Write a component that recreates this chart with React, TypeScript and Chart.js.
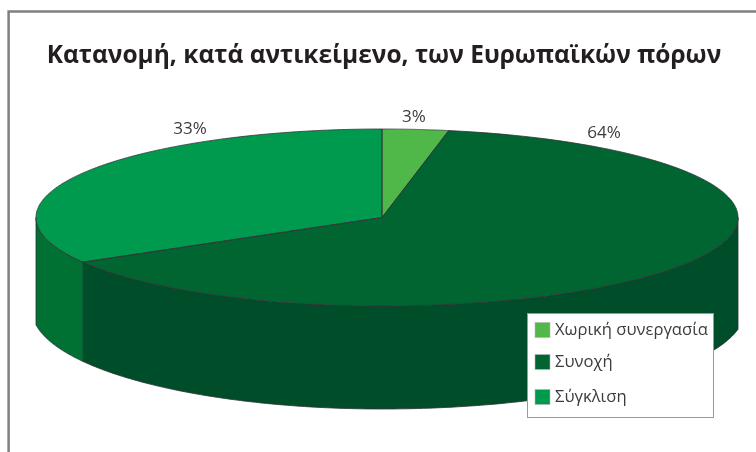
import React, { useEffect, useRef } from "react";
import { Chart, registerables } from "chart.js";

Chart.register(...registerables);

const titleText = "Κατανομή, κατά αντικείμενο, των Ευρωπαϊκών πόρων";
const categories = ["Χωρική συνεργασία", "Συνοχή", "Σύγκλιση"];
const shares = [3, 63.6, 33.4];
const shareLabels = ["3%", "64%", "33%"];
const faceColors = ["#50b848", "#006531", "#009a4e"];
const wallColors = ["#3f9a3a", "#004d2a", "#007033"];

const labelFont = '"Open Sans", "Noto Sans", sans-serif';

const geo = {
  cx: 382,
  cy: 217.5,
  rxLeft: 346,
  rxRight: 356,
  ry: 88.5,
  baseCy: 310,
  baseRy: 99,
  baseRxLeft: 350,
  baseRxRight: 363,
};
const labelAnchors = [
  { x: 414, y: 117 },
  { x: 604, y: 133 },
  { x: 190, y: 129 },
];
const legendBox = { x: 527, y: 313, w: 187, h: 105, rowY: [330, 362, 397], swatchX: 535, swatch: 15, textX: 555 };

const project = (a: number, base: boolean) => {
  const c = Math.cos(a);
  const x = geo.cx + (c >= 0 ? geo.rxRight : geo.rxLeft) * c;
  if (!base) return { x, y: geo.cy + geo.ry * Math.sin(a) };
  const u = (x - geo.cx) / (c >= 0 ? geo.baseRxRight : geo.baseRxLeft);
  return { x, y: geo.baseCy + geo.baseRy * Math.sqrt(Math.max(0, 1 - u * u)) };
};

const rimPath = (ctx: CanvasRenderingContext2D, from: number, to: number, base: boolean, move: boolean) => {
  const steps = 160;
  for (let i = 0; i <= steps; i++) {
    const p = project(from + ((to - from) * i) / steps, base);
    if (i === 0 && move) ctx.moveTo(p.x, p.y);
    else ctx.lineTo(p.x, p.y);
  }
};

const pie3d = {
  id: "pie3d",
  beforeDatasetDraw() {
    return false;
  },
  afterDatasetsDraw(chart: any) {
    const ctx: CanvasRenderingContext2D = chart.ctx;
    const arcs = chart.getDatasetMeta(0).data;
    const stroke = "#2f3335";

    // frame
    ctx.save();
    ctx.strokeStyle = "#808080";
    ctx.lineWidth = 2.5;
    ctx.beginPath();
    ctx.moveTo(8.6, 460);
    ctx.lineTo(8.6, 11.6);
    ctx.lineTo(770, 11.6);
    ctx.stroke();
    ctx.restore();

    // walls: the part of each slice whose angle faces the viewer
    arcs.forEach((arc: any, i: number) => {
      const twoPi = Math.PI * 2;
      for (const shift of [0, twoPi, -twoPi]) {
        const from = Math.max(arc.startAngle + shift, 0);
        const to = Math.min(arc.endAngle + shift, Math.PI);
        if (to <= from) continue;
        ctx.beginPath();
        rimPath(ctx, from, to, false, true);
        rimPath(ctx, to, from, true, false);
        ctx.closePath();
        ctx.fillStyle = wallColors[i];
        ctx.fill();
        ctx.strokeStyle = stroke;
        ctx.lineWidth = 0.8;
        ctx.stroke();
      }
    });

    // top faces: the library's arcs, squashed onto the ellipse
    for (const side of ["left", "right"]) {
      ctx.save();
      ctx.beginPath();
      if (side === "left") ctx.rect(0, 0, geo.cx, 452);
      else ctx.rect(geo.cx, 0, 756 - geo.cx, 452);
      ctx.clip();
      arcs.forEach((arc: any) => {
        const rx = side === "left" ? geo.rxLeft : geo.rxRight;
        ctx.save();
        ctx.translate(geo.cx, geo.cy);
        ctx.scale(rx / arc.outerRadius, geo.ry / arc.outerRadius);
        ctx.translate(-arc.x, -arc.y);
        arc.draw(ctx);
        ctx.restore();
      });
      ctx.restore();
    }

    // face outlines
    arcs.forEach((arc: any) => {
      ctx.beginPath();
      ctx.moveTo(geo.cx, geo.cy);
      rimPath(ctx, arc.startAngle, arc.endAngle, false, false);
      ctx.closePath();
      ctx.strokeStyle = stroke;
      ctx.lineWidth = 0.8;
      ctx.stroke();
    });

    // value labels
    ctx.font = `17px ${labelFont}`;
    ctx.fillStyle = "#3c3c3c";
    ctx.textAlign = "center";
    ctx.textBaseline = "middle";
    shareLabels.forEach((t, i) => ctx.fillText(t, labelAnchors[i].x, labelAnchors[i].y));

    // legend
    const b = legendBox;
    ctx.fillStyle = "#ffffff";
    ctx.fillRect(b.x, b.y, b.w, b.h);
    ctx.strokeStyle = "#9a9a9a";
    ctx.lineWidth = 1;
    ctx.strokeRect(b.x + 0.5, b.y + 0.5, b.w - 1, b.h - 1);
    ctx.font = `16.6px ${labelFont}`;
    ctx.textAlign = "left";
    categories.forEach((name, i) => {
      const y = b.rowY[i];
      ctx.fillStyle = faceColors[i];
      ctx.fillRect(b.swatchX, y - b.swatch / 2, b.swatch, b.swatch);
      ctx.strokeStyle = "#b5b5b5";
      ctx.lineWidth = 0.6;
      ctx.strokeRect(b.swatchX, y - b.swatch / 2, b.swatch, b.swatch);
      ctx.fillStyle = "#3c3c3c";
      ctx.fillText(name, b.textX, y);
    });
  },
};

export default function App() {
  const ref = useRef<HTMLCanvasElement>(null);
  useEffect(() => {
    const chart = new Chart(ref.current!, {
      type: "pie",
      data: {
        labels: categories,
        datasets: [{ data: shares, backgroundColor: faceColors, borderWidth: 0 }],
      },
      options: {
        responsive: false,
        animation: false,
        layout: { padding: { left: 12, top: 0 } },
        plugins: {
          legend: { display: false },
          tooltip: { enabled: false },
          title: {
            display: true,
            text: titleText,
            color: "#231f20",
            font: { family: labelFont, size: 24.5, weight: "700" },
            padding: { top: 41, bottom: 10 },
          },
        },
      },
      plugins: [pie3d],
    } as any);
    return () => chart.destroy();
  }, []);
  return (
    <canvas
      ref={ref}
      width={756}
      height={452}
      style={{ position: "fixed", left: 0, top: 0, width: 756, height: 452, background: "#fff" }}
    />
  );
}
